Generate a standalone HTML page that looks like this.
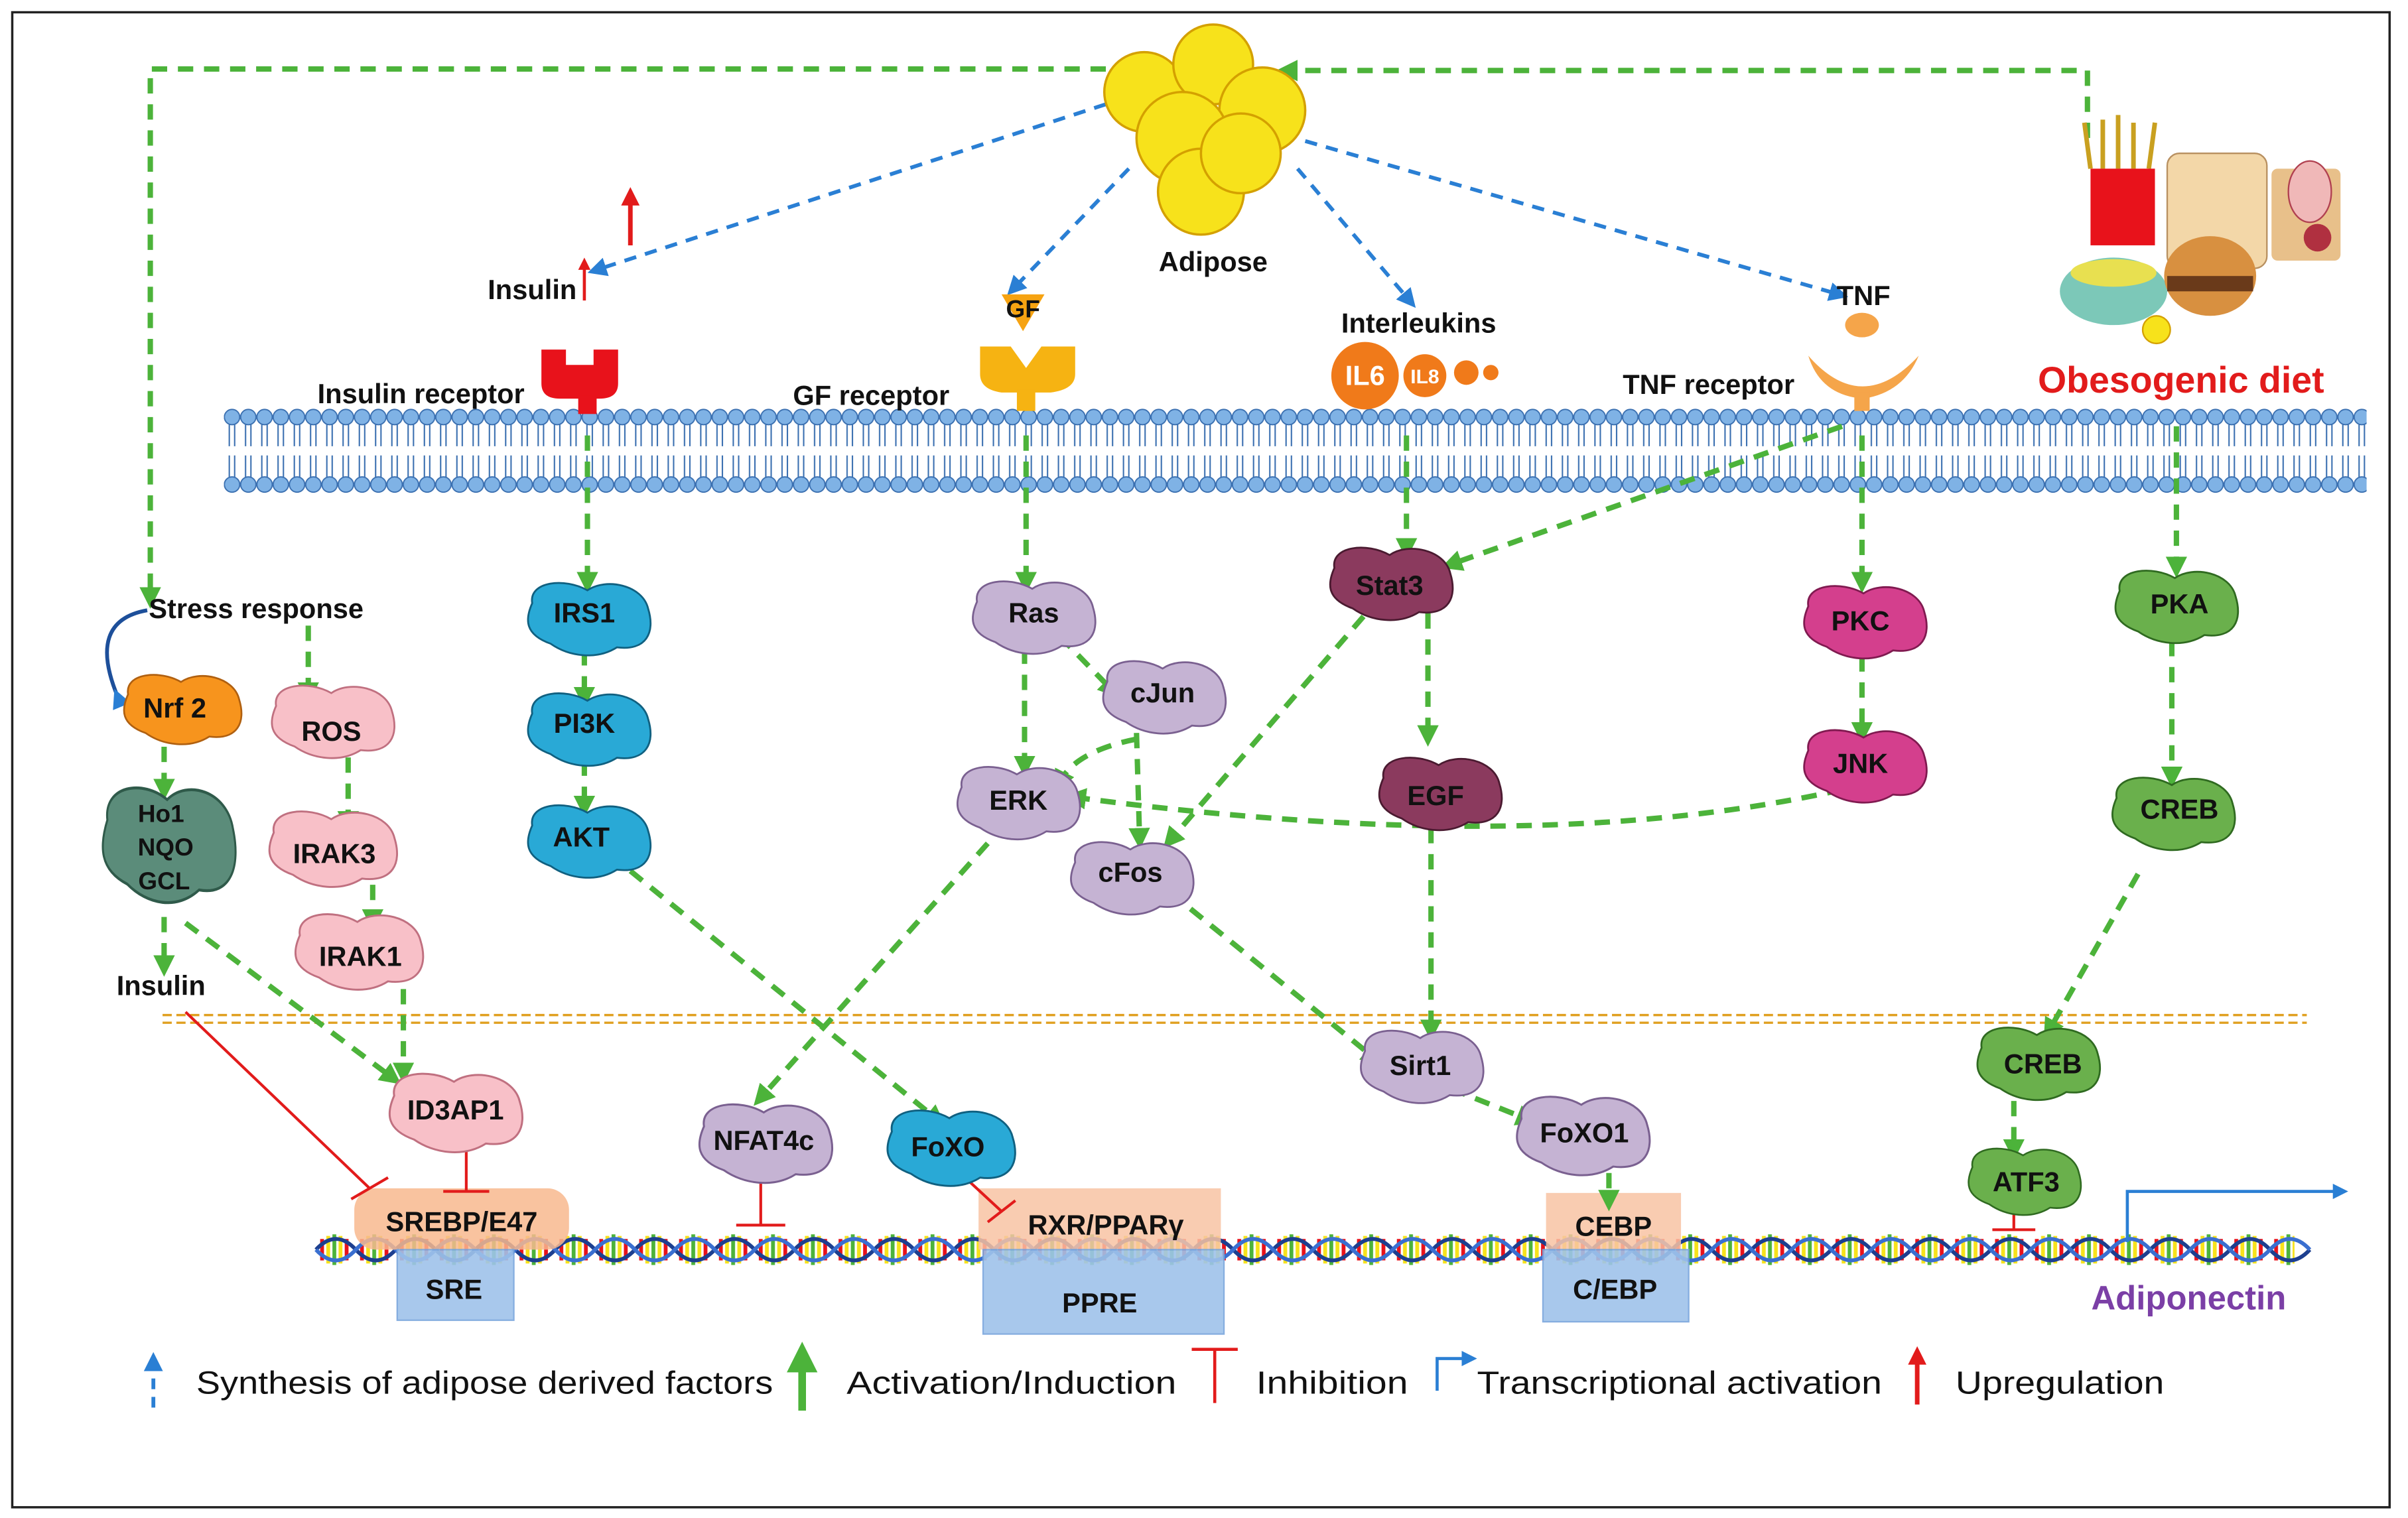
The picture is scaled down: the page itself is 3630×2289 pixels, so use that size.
<!DOCTYPE html>
<html><head><meta charset="utf-8"><style>
html,body{margin:0;padding:0;background:#fff}
svg{display:block}
text{font-family:"Liberation Sans",sans-serif;font-weight:bold;fill:#111}
</style></head><body>
<svg width="3630" height="2289" viewBox="0 0 1568 990" xmlns="http://www.w3.org/2000/svg">
<defs>
<pattern id="mem" x="145" y="0" width="10.6" height="990" patternUnits="userSpaceOnUse">
<circle cx="5.3" cy="272" r="5" fill="#7fb2e5" stroke="#3a6fb0" stroke-width="0.8"/>
<circle cx="5.3" cy="316" r="5" fill="#7fb2e5" stroke="#3a6fb0" stroke-width="0.8"/>
<path d="M3.5,277 v14 M7,277 v14 M3.5,297 v14 M7,297 v14" stroke="#3a6fb0" stroke-width="0.9" fill="none"/>
</pattern>
<pattern id="rung" x="205" y="0" width="26" height="990" patternUnits="userSpaceOnUse">
<path d="M4,808 v14" stroke="#e8121b" stroke-width="2.5"/>
<path d="M8,806 v18" stroke="#f7e21b" stroke-width="2.5"/>
<path d="M12,805 v20" stroke="#4cb33a" stroke-width="2.5"/>
<path d="M16,806 v18" stroke="#f7e21b" stroke-width="2.5"/>
<path d="M20,808 v14" stroke="#e8121b" stroke-width="2.5"/>
</pattern>
<marker id="ga" viewBox="0 0 10 10" refX="5" refY="5" markerWidth="4" markerHeight="4" orient="auto"><path d="M0,0 L10,5 L0,10z" fill="#4cb33a"/></marker>
<marker id="ba" viewBox="0 0 10 10" refX="5" refY="5" markerWidth="5" markerHeight="5" orient="auto"><path d="M0,0 L10,5 L0,10z" fill="#2a7fd4"/></marker>
<marker id="ra" viewBox="0 0 10 10" refX="5" refY="5" markerWidth="4" markerHeight="4" orient="auto"><path d="M0,0 L10,5 L0,10z" fill="#e21b1b"/></marker>
<path id="blob" d="M-30,-8 C-32,-20 -12,-22 0,-15 C10,-22 30,-18 33,-5 C37,8 32,18 16,16 C5,23 -10,21 -20,14 C-34,9 -34,1 -30,-8Z"/>
</defs>
<rect x="7" y="8" width="1550" height="975" fill="none" stroke="#222" stroke-width="1.5"/>

<rect x="145" y="264" width="1397" height="60" fill="url(#mem)"/>

<line x1="105" y1="662" x2="1503" y2="662" stroke="#e0a020" stroke-width="1.5" stroke-dasharray="6,3"/>
<line x1="105" y1="667" x2="1503" y2="667" stroke="#e0a020" stroke-width="1.5" stroke-dasharray="6,3"/>

<!-- DNA -->
<rect x="205" y="800" width="1290" height="30" fill="url(#rung)"/>
<g stroke-width="2.5" fill="none">
<path d="M205,815 q13,-14 26,0 t26,0 t26,0 t26,0 t26,0 t26,0 t26,0 t26,0 t26,0 t26,0 t26,0 t26,0 t26,0 t26,0 t26,0 t26,0 t26,0 t26,0 t26,0 t26,0 t26,0 t26,0 t26,0 t26,0 t26,0 t26,0 t26,0 t26,0 t26,0 t26,0 t26,0 t26,0 t26,0 t26,0 t26,0 t26,0 t26,0 t26,0 t26,0 t26,0 t26,0 t26,0 t26,0 t26,0 t26,0 t26,0 t26,0 t26,0 t26,0 t26,0" stroke="#1d3f8f"/>
<path d="M205,815 q13,14 26,0 t26,0 t26,0 t26,0 t26,0 t26,0 t26,0 t26,0 t26,0 t26,0 t26,0 t26,0 t26,0 t26,0 t26,0 t26,0 t26,0 t26,0 t26,0 t26,0 t26,0 t26,0 t26,0 t26,0 t26,0 t26,0 t26,0 t26,0 t26,0 t26,0 t26,0 t26,0 t26,0 t26,0 t26,0 t26,0 t26,0 t26,0 t26,0 t26,0 t26,0 t26,0 t26,0 t26,0 t26,0 t26,0 t26,0 t26,0 t26,0 t26,0" stroke="#3a6fd0"/>
</g>

<rect x="230" y="775" width="140" height="40" rx="14" fill="#f8b88e" opacity="0.85"/>
<rect x="258" y="815" width="76" height="46" fill="#9fc3ea" stroke="#7aa6dd" opacity="0.9"/>
<rect x="637" y="775" width="158" height="40" fill="#f8c3a3" opacity="0.85"/>
<rect x="640" y="815" width="157" height="55" fill="#9fc3ea" stroke="#7aa6dd" opacity="0.9"/>
<rect x="1007" y="778" width="88" height="37" fill="#f8c3a3" opacity="0.85"/>
<rect x="1005" y="815" width="95" height="47" fill="#9fc3ea" stroke="#7aa6dd" opacity="0.9"/>
<g font-size="18">
<text x="300" y="803" text-anchor="middle">SREBP/E47</text>
<text x="295" y="847" text-anchor="middle">SRE</text>
<text x="720" y="805" text-anchor="middle">RXR/PPARγ</text>
<text x="716" y="856" text-anchor="middle">PPRE</text>
<text x="1051" y="806" text-anchor="middle">CEBP</text>
<text x="1052" y="847" text-anchor="middle">C/EBP</text>
</g>
<text x="1426" y="854" text-anchor="middle" font-size="22" style="fill:#7b3fa6">Adiponectin</text>
<path d="M1386,810 V777 H1525" fill="none" stroke="#2a7fd4" stroke-width="2" marker-end="url(#ba)"/>

<g stroke="#2a7fd4" stroke-width="2.5" stroke-dasharray="8,6" fill="none" marker-end="url(#ba)">
<path d="M720,68 L388,176"/>
<path d="M735,110 L660,188"/>
<path d="M845,110 L918,196"/>
<path d="M850,92 L1198,192"/>
</g>

<g stroke="#4cb33a" stroke-width="3.5" stroke-dasharray="10,7" fill="none" marker-end="url(#ga)">
<path d="M720,45 H97 V390"/>
<path d="M1360,90 V46 H838"/>
<path d="M200,408 V452"/>
<path d="M106,487 V515"/>
<path d="M226,494 V536"/>
<path d="M242,577 V600"/>
<path d="M262,645 V700"/>
<path d="M106,598 V630"/>
<path d="M120,602 L255,703"/>
<path d="M382,284 V380"/>
<path d="M380,424 V455"/>
<path d="M380,496 V526"/>
<path d="M410,568 L610,730"/>
<path d="M668,284 V380"/>
<path d="M667,423 V500"/>
<path d="M690,415 L724,450"/>
<path d="M740,478 L742,547"/>
<path d="M740,482 Q700,490 690,510"/>
<path d="M762,582 L895,690"/>
<path d="M643,550 L495,716"/>
<path d="M916,284 V358"/>
<path d="M930,400 V480"/>
<path d="M932,540 V672"/>
<path d="M888,402 L762,548"/>
<path d="M1200,278 L945,368"/>
<path d="M1213,284 V380"/>
<path d="M1213,428 V478"/>
<path d="M1200,515 Q1000,560 700,520"/>
<path d="M1418,278 V370"/>
<path d="M1415,418 V507"/>
<path d="M1393,570 L1335,672"/>
<path d="M1312,718 V750"/>
<path d="M945,710 L995,730"/>
<path d="M1048,765 V783"/>
</g>

<g stroke="#e21b1b" stroke-width="1.8" fill="none">
<path d="M120,660 L240,775 M228,782 L252,768"/>
<path d="M303,745 V777 M288,777 H318"/>
<path d="M495,762 V799 M479,799 H511"/>
<path d="M625,765 L652,790 M643,797 L661,783"/>
<path d="M1312,790 V802 M1298,802 H1326"/>
</g>
<path d="M410,160 V128" stroke="#e21b1b" stroke-width="3" marker-end="url(#ra)"/>
<path d="M380,196 V172" stroke="#e21b1b" stroke-width="2" marker-end="url(#ra)"/>
<path d="M76,455 Q55,405 95,398" fill="none" stroke="#1d4f9a" stroke-width="2.5" marker-start="url(#ba)"/>

<g stroke="#d4a000" stroke-width="1.5" fill="#f7e21b">
<circle cx="745" cy="60" r="26"/><circle cx="790" cy="42" r="26"/><circle cx="822" cy="72" r="28"/>
<circle cx="770" cy="90" r="30"/><circle cx="782" cy="125" r="28"/><circle cx="808" cy="100" r="26"/>
</g>
<text x="790" y="177" text-anchor="middle" font-size="18">Adipose</text>

<path d="M352,228 h16 v10 h18 v-10 h16 v22 q0,10 -12,10 h-26 q-12,0 -12,-10z" fill="#e8121b"/>
<rect x="376" y="258" width="12" height="12" fill="#e8121b"/>
<path d="M638,226 h20 l10,14 l10,-14 h22 v18 q0,10 -16,12 h-32 q-14,-2 -14,-12z" fill="#f6b312"/>
<rect x="662" y="254" width="12" height="14" fill="#f6b312"/>
<path d="M652,192 h28 l-14,24z" fill="#f6a312"/>
<path d="M1178,232 q35,40 72,0 q-10,24 -36,28 q-28,-2 -36,-28z" fill="#f5a54a"/>
<rect x="1208" y="256" width="10" height="12" fill="#f5a54a"/>
<ellipse cx="1213" cy="212" rx="11" ry="8" fill="#f5a54a"/>
<circle cx="889" cy="245" r="22" fill="#f07a1a"/>
<circle cx="928" cy="245" r="14" fill="#f07a1a"/>
<circle cx="955" cy="243" r="8" fill="#f07a1a"/>
<circle cx="971" cy="243" r="5" fill="#f07a1a"/>
<g font-size="18">
<text x="375" y="195" text-anchor="end">Insulin</text>
<text x="666" y="207" text-anchor="middle" font-size="16">GF</text>
<text x="924" y="217" text-anchor="middle">Interleukins</text>
<text x="1214" y="199" text-anchor="middle">TNF</text>
<text x="206" y="263">Insulin receptor</text>
<text x="516" y="264">GF receptor</text>
<text x="1057" y="257">TNF receptor</text>
<text x="889" y="251" text-anchor="middle" style="fill:#fff">IL6</text>
<text x="928" y="250" text-anchor="middle" font-size="13" style="fill:#fff">IL8</text>
<text x="96" y="403">Stress response</text>
<text x="104" y="649" text-anchor="middle">Insulin</text>
</g>
<text x="1421" y="256" text-anchor="middle" font-size="24" style="fill:#e21b1b">Obesogenic diet</text>

<g>
<path d="M1362,110 l-4,-30 M1370,110 v-32 M1380,110 v-35 M1390,110 v-30 M1400,110 l4,-30" stroke="#c9a020" stroke-width="3"/>
<rect x="1362" y="110" width="42" height="50" fill="#e8121b"/>
<rect x="1412" y="100" width="65" height="75" rx="8" fill="#f3d7a8" stroke="#b89060"/>
<rect x="1480" y="110" width="45" height="60" rx="4" fill="#e8c08a"/>
<ellipse cx="1505" cy="125" rx="14" ry="20" fill="#f0b8b8" stroke="#b04050"/>
<circle cx="1510" cy="155" r="9" fill="#b03040"/>
<ellipse cx="1377" cy="190" rx="35" ry="22" fill="#7cc8b8"/>
<ellipse cx="1377" cy="178" rx="28" ry="9" fill="#e8e050"/>
<ellipse cx="1440" cy="180" rx="30" ry="26" fill="#d89040"/>
<rect x="1412" y="180" width="56" height="10" fill="#6a3a1a"/>
<circle cx="1405" cy="215" r="9" fill="#f7e21b" stroke="#d4a000"/>
</g>

<g font-size="18" text-anchor="middle">
<g transform="translate(117,462) scale(1.15)"><use href="#blob" fill="#f7941d" stroke="#b06010"/></g><text x="113" y="468">Nrf 2</text>
<g transform="translate(215,470) scale(1.2)"><use href="#blob" fill="#f8c0c8" stroke="#c07080"/></g><text x="215" y="483">ROS</text>
<g transform="translate(108,550) scale(1.3,1.9)"><use href="#blob" fill="#5b8c7a" stroke="#2f5a4a"/></g>
<text x="104" y="536" font-size="16">Ho1</text><text x="107" y="558" font-size="16">NQO</text><text x="106" y="580" font-size="16">GCL</text>
<g transform="translate(215,553) scale(1.25)"><use href="#blob" fill="#f8c0c8" stroke="#c07080"/></g><text x="217" y="563">IRAK3</text>
<g transform="translate(232,620) scale(1.25)"><use href="#blob" fill="#f8c0c8" stroke="#c07080"/></g><text x="234" y="630">IRAK1</text>
<g transform="translate(382,403) scale(1.2)"><use href="#blob" fill="#29a9d6" stroke="#106080"/></g><text x="380" y="406">IRS1</text>
<g transform="translate(382,475) scale(1.2)"><use href="#blob" fill="#29a9d6" stroke="#106080"/></g><text x="380" y="478">PI3K</text>
<g transform="translate(382,548) scale(1.2)"><use href="#blob" fill="#29a9d6" stroke="#106080"/></g><text x="378" y="552">AKT</text>
<g transform="translate(672,402) scale(1.2)"><use href="#blob" fill="#c5b3d3" stroke="#7a6090"/></g><text x="673" y="406">Ras</text>
<g transform="translate(757,454) scale(1.2)"><use href="#blob" fill="#c5b3d3" stroke="#7a6090"/></g><text x="757" y="458">cJun</text>
<g transform="translate(662,523) scale(1.2)"><use href="#blob" fill="#c5b3d3" stroke="#7a6090"/></g><text x="663" y="528">ERK</text>
<g transform="translate(736,572) scale(1.2)"><use href="#blob" fill="#c5b3d3" stroke="#7a6090"/></g><text x="736" y="575">cFos</text>
<g transform="translate(905,380) scale(1.2)"><use href="#blob" fill="#8b3a5e" stroke="#4a1a30"/></g><text x="905" y="388">Stat3</text>
<g transform="translate(937,517) scale(1.2)"><use href="#blob" fill="#8b3a5e" stroke="#4a1a30"/></g><text x="935" y="525">EGF</text>
<g transform="translate(1214,405) scale(1.2)"><use href="#blob" fill="#d43f8d" stroke="#801a50"/></g><text x="1212" y="411">PKC</text>
<g transform="translate(1214,499) scale(1.2)"><use href="#blob" fill="#d43f8d" stroke="#801a50"/></g><text x="1212" y="504">JNK</text>
<g transform="translate(1417,395) scale(1.2)"><use href="#blob" fill="#6ab04c" stroke="#2f6a20"/></g><text x="1420" y="400">PKA</text>
<g transform="translate(1415,530) scale(1.2)"><use href="#blob" fill="#6ab04c" stroke="#2f6a20"/></g><text x="1420" y="534">CREB</text>
<g transform="translate(1327,693) scale(1.2)"><use href="#blob" fill="#6ab04c" stroke="#2f6a20"/></g><text x="1331" y="700">CREB</text>
<g transform="translate(1318,770) scale(1.1)"><use href="#blob" fill="#6ab04c" stroke="#2f6a20"/></g><text x="1320" y="777">ATF3</text>
<g transform="translate(295,725) scale(1.3)"><use href="#blob" fill="#f8c0c8" stroke="#c07080"/></g><text x="296" y="730">ID3AP1</text>
<g transform="translate(497,745) scale(1.3)"><use href="#blob" fill="#c5b3d3" stroke="#7a6090"/></g><text x="497" y="750">NFAT4c</text>
<g transform="translate(618,748) scale(1.25)"><use href="#blob" fill="#29a9d6" stroke="#106080"/></g><text x="617" y="754">FoXO</text>
<g transform="translate(925,695) scale(1.2)"><use href="#blob" fill="#c5b3d3" stroke="#7a6090"/></g><text x="925" y="701">Sirt1</text>
<g transform="translate(1030,740) scale(1.3)"><use href="#blob" fill="#c5b3d3" stroke="#7a6090"/></g><text x="1032" y="745">FoXO1</text>
</g>

<g font-size="21">
<path d="M99,918 V888" stroke="#2a7fd4" stroke-width="2.5" stroke-dasharray="7,5" marker-end="url(#ba)"/>
<text x="127" y="909" textLength="376" lengthAdjust="spacingAndGlyphs" style="font-weight:normal">Synthesis of adipose derived factors</text>
<path d="M522,920 V885" stroke="#4cb33a" stroke-width="5" marker-end="url(#ga)"/>
<text x="551" y="909" textLength="215" lengthAdjust="spacingAndGlyphs" style="font-weight:normal">Activation/Induction</text>
<path d="M791,880 V915 M776,880 H806" stroke="#e21b1b" stroke-width="2" fill="none"/>
<text x="818" y="909" textLength="99" lengthAdjust="spacingAndGlyphs" style="font-weight:normal">Inhibition</text>
<path d="M936,907 V886 H957" stroke="#2a7fd4" stroke-width="2" fill="none" marker-end="url(#ba)"/>
<text x="962" y="909" textLength="264" lengthAdjust="spacingAndGlyphs" style="font-weight:normal">Transcriptional activation</text>
<path d="M1249,916 V884" stroke="#e21b1b" stroke-width="3" marker-end="url(#ra)"/>
<text x="1274" y="909" textLength="136" lengthAdjust="spacingAndGlyphs" style="font-weight:normal">Upregulation</text>
</g>
</svg>
</body></html>
